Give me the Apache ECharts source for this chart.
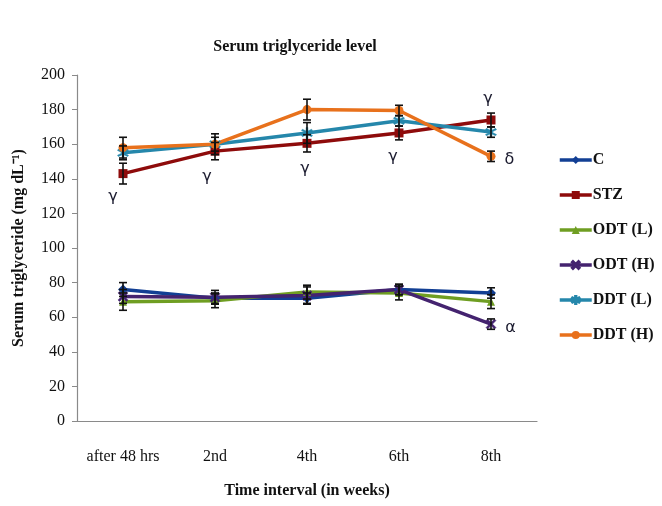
<!DOCTYPE html>
<html>
<head>
<meta charset="utf-8">
<script src="https://cdn.jsdelivr.net/npm/echarts@6/dist/echarts.min.js"></script>
<style>
  html, body { margin: 0; padding: 0; background: #fff; }
  #chart { width: 662px; height: 506px; }
</style>
</head>
<body>
<div id="chart"></div>
<script>
// Time points and serum triglyceride means (mg/dL) with SEM
var categories = ['after 48 hrs', '2nd', '4th', '6th', '8th'];
var yTicks = [0, 20, 40, 60, 80, 100, 120, 140, 160, 180, 200];

var seriesNames = ['C', 'STZ', 'ODT (L)', 'ODT (H)', 'DDT (L)', 'DDT (H)'];

var valC    = [76, 71, 71, 76, 74];
var valSTZ  = [143, 156, 160.5, 166.5, 174];
var valODTL = [69, 69.5, 74.5, 74, 69];
var valODTH = [72, 71.5, 72.5, 76, 56];
var valDDTL = [155, 160, 166.5, 173.5, 167];
var valDDTH = [158, 160, 180, 179.5, 153];

var errC    = [4, 3, 3, 3, 3];
var errSTZ  = [6, 5, 5, 4, 4];
var errODTL = [5, 4, 4, 4, 4];
var errODTH = [4, 4, 5, 3, 3];
var errDDTL = [4, 4, 6, 3, 3];
var errDDTH = [6, 6, 6, 3, 3];

// significance letters shown next to points
var sigSTZ  = ['γ', 'γ', 'γ', 'γ', 'γ'];
var sigODTH = ['', '', '', '', 'α'];
var sigDDTH = ['', '', '', '', 'δ'];

var colors = ['#123f94', '#8e0b0b', '#6f9e22', '#44236f', '#2587ab', '#e8711c'];

var xMark = 'path://M0,1.5L1.5,0L5,3.5L8.5,0L10,1.5L6.5,5L10,8.5L8.5,10L5,6.5L1.5,10L0,8.5L3.5,5Z';
var starMark = 'path://M4.3,0H5.7V3.3L8.6,1.6L9.3,2.8L6.4,4.5V5.5L9.3,7.2L8.6,8.4L5.7,6.7V10H4.3V6.7L1.4,8.4L0.7,7.2L3.6,5.5V4.5L0.7,2.8L1.4,1.6L4.3,3.3Z';
var symbols = ['diamond', 'rect', 'triangle', xMark, starMark, 'circle'];
var symbolSizes = [10, 9, 8, 10, 11, 9];

var values = [valC, valSTZ, valODTL, valODTH, valDDTL, valDDTH];
var errors = [errC, errSTZ, errODTL, errODTH, errDDTL, errDDTH];
var sigs = [null, sigSTZ, null, sigODTH, null, sigDDTH];

// label placement for the STZ letters (below, last one above)
var stzLabelOffsets = [[-10, 6], [-8, 8], [-2, 8], [-6, 6], [-3, -4]];

var serif = '"Liberation Serif", "Times New Roman", serif';
var greekFont = '"DejaVu Sans", sans-serif';

function buildData(i) {
  return values[i].map(function (v, k) {
    var s = sigs[i] ? sigs[i][k] : '';
    if (!s) return v;
    var lbl = {
      show: true, formatter: s, color: '#1a1a2e',
      fontFamily: greekFont, fontSize: 16
    };
    if (i === 1) {
      lbl.position = (k === 4) ? 'top' : 'bottom';
      lbl.offset = stzLabelOffsets[k];
    } else {
      lbl.position = 'right';
      lbl.offset = [4, 4];
    }
    return { value: v, label: lbl };
  });
}

function errorSeries(i) {
  var data = values[i].map(function (v, k) {
    return [k, v - errors[i][k], v + errors[i][k]];
  });
  return {
    type: 'custom',
    name: seriesNames[i] + ' err',
    z: 5,
    silent: true,
    data: data,
    encode: { x: 0, y: [1, 2] },
    renderItem: function (params, api) {
      var x = api.value(0);
      var lo = api.coord([x, api.value(1)]);
      var hi = api.coord([x, api.value(2)]);
      var w = 4;
      var st = { stroke: '#111', lineWidth: 1.6 };
      return {
        type: 'group',
        children: [
          { type: 'line', shape: { x1: lo[0], y1: lo[1], x2: hi[0], y2: hi[1] }, style: st },
          { type: 'line', shape: { x1: lo[0] - w, y1: lo[1], x2: lo[0] + w, y2: lo[1] }, style: st },
          { type: 'line', shape: { x1: hi[0] - w, y1: hi[1], x2: hi[0] + w, y2: hi[1] }, style: st }
        ]
      };
    }
  };
}

var series = [];
seriesNames.forEach(function (name, i) {
  var fillSym = (i === 3 || i === 4);
  series.push({
    type: 'line',
    name: name,
    data: buildData(i),
    z: 3,
    symbol: symbols[i],
    symbolSize: symbolSizes[i],
    lineStyle: { color: colors[i], width: 3.5 },
    itemStyle: {
      color: colors[i],
      borderColor: colors[i],
      borderWidth: fillSym ? 0.5 : 0
    }
  });
});
seriesNames.forEach(function (name, i) {
  series.push(errorSeries(i));
});

var chart = echarts.init(document.getElementById('chart'));
chart.setOption({
  backgroundColor: '#fff',
  animation: false,
  title: {
    text: 'Serum triglyceride level',
    left: 290, top: 34, textAlign: 'center',
    textStyle: { fontFamily: serif, fontSize: 16, fontWeight: 'bold', color: '#111' }
  },
  legend: {
    data: seriesNames,
    orient: 'vertical',
    left: 553, top: 147,
    itemWidth: 32, itemHeight: 10,
    itemGap: 19,
    lineStyle: { width: 3.5 },
    textStyle: { fontFamily: serif, fontSize: 16, fontWeight: 'bold', color: '#111', padding: [0, 0, 0, -4] }
  },
  grid: { left: 77, right: 125, top: 75, bottom: 85 },
  xAxis: {
    type: 'category',
    data: categories,
    boundaryGap: true,
    name: 'Time interval (in weeks)',
    nameLocation: 'middle',
    nameGap: 62,
    nameTextStyle: { fontFamily: serif, fontSize: 16, fontWeight: 'bold', color: '#111' },
    axisLine: { lineStyle: { color: '#8a8a8a', width: 1.2 } },
    axisTick: { show: false },
    axisLabel: { interval: 0, fontFamily: serif, fontSize: 16, color: '#111', margin: 28 }
  },
  yAxis: {
    type: 'value',
    min: yTicks[0],
    max: yTicks[yTicks.length - 1],
    interval: yTicks[1] - yTicks[0],
    name: 'Serum triglyceride (mg dL⁻¹)',
    nameLocation: 'middle',
    nameRotate: 90,
    nameGap: 50,
    nameTextStyle: { fontFamily: serif, fontSize: 16, fontWeight: 'bold', color: '#111' },
    axisLine: { show: true, lineStyle: { color: '#8a8a8a', width: 1.2 } },
    axisTick: { show: true, length: 5, lineStyle: { color: '#8a8a8a' } },
    splitLine: { show: false },
    axisLabel: { fontFamily: serif, fontSize: 16, color: '#111', margin: 12 }
  },
  series: series
});
</script>
</body>
</html>
